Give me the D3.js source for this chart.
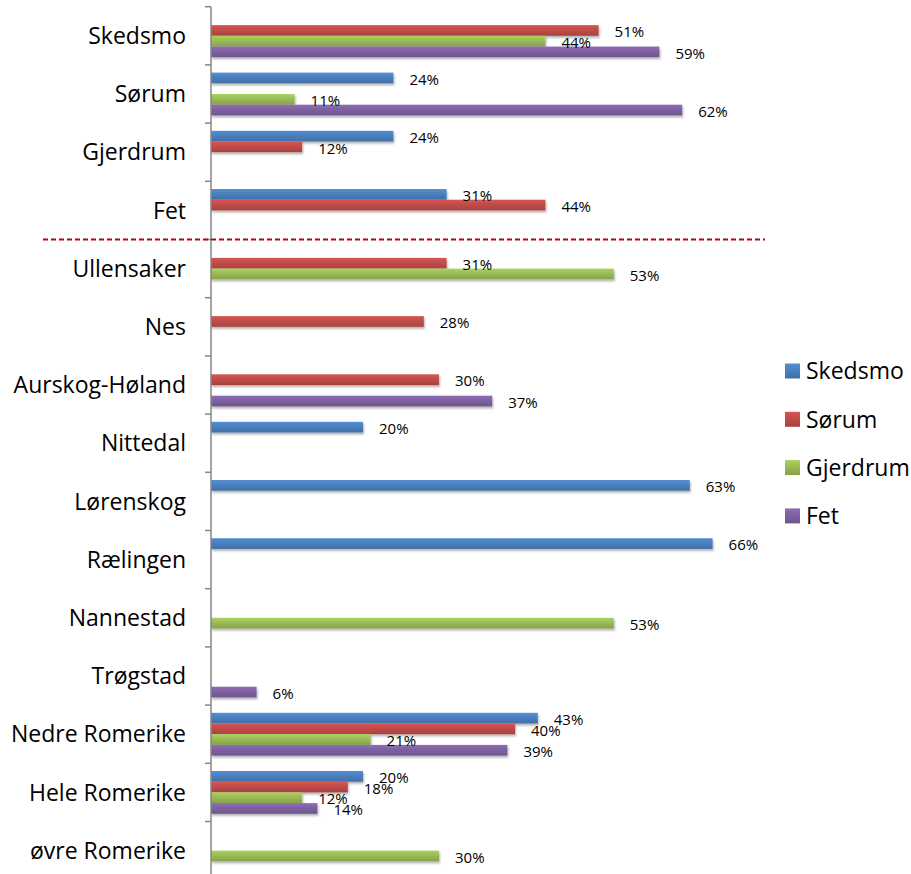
<!DOCTYPE html>
<meta charset="utf-8">
<style>
    body { margin: 0; background: #fff; }
    text { font-family: "Open Sans", sans-serif; fill: #000; }
    .cat { font-size: 23px; }
    .lbl { font-size: 15px; }
    .legend text { font-size: 23px; }
</style>
<script src="https://d3js.org/d3.v7.min.js"></script>

<body>
    <div id="chart"></div>
    <script>
        // data (percent), null = no bar
        var categories = ["Skedsmo", "Sørum", "Gjerdrum", "Fet", "Ullensaker", "Nes", "Aurskog-Høland",
            "Nittedal", "Lørenskog", "Rælingen", "Nannestad", "Trøgstad", "Nedre Romerike",
            "Hele Romerike", "øvre Romerike"];
        var seriesNames = ["Skedsmo", "Sørum", "Gjerdrum", "Fet"];
        var skedsmo = [null, 24, 24, 31, null, null, null, 20, 63, 66, null, null, 43, 20, null];
        var sorum = [51, null, 12, 44, 31, 28, 30, null, null, null, null, null, 40, 18, null];
        var gjerdrum = [44, 11, null, null, 53, null, null, null, null, null, 53, null, 21, 12, 30];
        var fet = [59, 62, null, null, null, null, 37, null, null, null, null, 6, 39, 14, null];
        var seriesValues = [skedsmo, sorum, gjerdrum, fet];
        var colors = ["#4a7ebb", "#be4b48", "#98b954", "#7d60a0"];
        var dividerAfter = "Fet";

        var W = 911, H = 874;
        var svg = d3.select("#chart").append("svg")
            .attr("width", W)
            .attr("height", H);

        var x = d3.scaleLinear().domain([0, 70]).range([211, 743]);
        var y = d3.scaleBand().domain(categories).range([6.7, 879.7]).padding(0);
        var ySub = d3.scaleBand().domain(d3.range(4)).range([0, y.bandwidth()])
            .paddingInner(0).paddingOuter(0.72);

        var defs = svg.append("defs");
        colors.forEach(function(c, i) {
            var g = defs.append("linearGradient")
                .attr("id", "grad" + i)
                .attr("x1", 0).attr("y1", 0).attr("x2", 0).attr("y2", 1);
            g.append("stop").attr("offset", "0%").attr("stop-color", d3.color(c).brighter(0.35));
            g.append("stop").attr("offset", "50%").attr("stop-color", c);
            g.append("stop").attr("offset", "100%").attr("stop-color", d3.color(c).darker(0.35));
        });
        defs.append("filter").attr("id", "shadow")
            .attr("x", "-5%").attr("y", "-30%").attr("width", "115%").attr("height", "190%")
            .append("feDropShadow")
            .attr("dx", 1).attr("dy", 2).attr("stdDeviation", 1.2)
            .attr("flood-color", "#000").attr("flood-opacity", 0.3);

        // bars
        var bars = [];
        categories.forEach(function(cat, ci) {
            seriesValues.forEach(function(vals, si) {
                if (vals[ci] != null) bars.push({ cat: cat, s: si, v: vals[ci] });
            });
        });

        var barG = svg.append("g");
        barG.selectAll("rect")
            .data(bars)
            .join("rect")
            .attr("x", x(0))
            .attr("y", d => y(d.cat) + ySub(d.s))
            .attr("width", d => x(d.v) - x(0))
            .attr("height", ySub.bandwidth())
            .attr("fill", d => "url(#grad" + d.s + ")")
            .attr("filter", "url(#shadow)");

        // axis
        var axis = svg.append("g")
            .attr("transform", "translate(" + x(0) + ",0)");
        axis.append("line")
            .attr("y1", y.range()[0]).attr("y2", y.range()[1])
            .attr("stroke", "#868686").attr("stroke-width", 1.5);
        var tickYs = categories.map(c => y(c)).concat([y.range()[1]]);
        axis.selectAll(".tk")
            .data(tickYs)
            .join("line")
            .attr("class", "tk")
            .attr("x1", -6).attr("x2", 0)
            .attr("y1", d => d).attr("y2", d => d)
            .attr("stroke", "#868686").attr("stroke-width", 1.5);

        svg.selectAll(".cat")
            .data(categories)
            .join("text")
            .attr("class", "cat")
            .attr("x", 186)
            .attr("y", d => y(d) + y.bandwidth() / 2)
            .attr("dy", "0.36em")
            .attr("text-anchor", "end")
            .text(d => d);

        // value labels
        svg.selectAll(".lbl")
            .data(bars)
            .join("text")
            .attr("class", "lbl")
            .attr("x", d => x(d.v) + 16)
            .attr("y", d => y(d.cat) + ySub(d.s) + ySub.bandwidth() / 2 + 1.3)
            .attr("dy", "0.36em")
            .text(d => d.v + "%");

        // dashed divider
        var divY = y(dividerAfter) + y.bandwidth();
        svg.append("line")
            .attr("x1", 43).attr("x2", 765)
            .attr("y1", divY).attr("y2", divY)
            .attr("stroke", "#c00000")
            .attr("stroke-width", 2)
            .attr("stroke-dasharray", "5,3");

        // legend
        var legend = svg.append("g").attr("class", "legend");
        var li = legend.selectAll("g")
            .data(seriesNames)
            .join("g")
            .attr("transform", (d, i) => "translate(785," + (371 + i * 48.3) + ")");
        li.append("rect")
            .attr("x", 0).attr("y", -7.5)
            .attr("width", 15).attr("height", 15)
            .attr("fill", (d, i) => "url(#grad" + i + ")");
        li.append("text")
            .attr("x", 21)
            .attr("y", 0)
            .attr("dy", "0.36em")
            .text(d => d);
    </script>
</body>
